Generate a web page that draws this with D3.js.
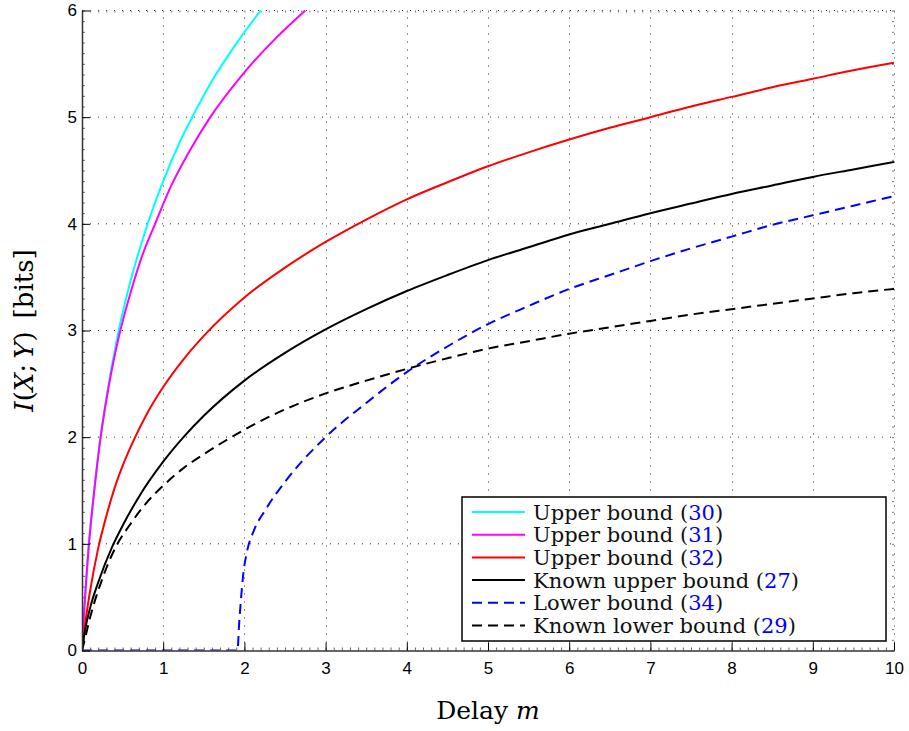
<!DOCTYPE html>
<html>
<head>
<meta charset="utf-8">
<script src="https://cdn.jsdelivr.net/npm/d3@7/dist/d3.min.js"></script>
<style>
  body { margin: 0; background: #fff; }
  svg { display: block; }
</style>
</head>
<body>
<div id="chart"></div>
<script>

// curves, [delay m, I(X;Y) bits]
const upper30 = [[0,0],[0.03,0.4],[0.08,0.97],[0.15,1.5],[0.22,1.96],[0.3,2.37],[0.435,2.94],[0.6,3.47],[0.8,3.98],[1.0,4.4],[1.2,4.76],[1.35,4.99],[1.6,5.34],[1.9,5.69],[2.2,6.0]];
const upper31 = [[0,0],[0.03,0.41],[0.085,0.99],[0.15,1.49],[0.23,2.0],[0.33,2.48],[0.45,2.93],[0.6,3.36],[0.75,3.72],[0.9,4.0],[1.1,4.36],[1.3,4.65],[1.58,5.0],[2.0,5.42],[2.4,5.75],[2.75,6.0]];
const upper32 = [[0,0],[0.05,0.31],[0.1,0.56],[0.2,0.96],[0.3,1.26],[0.4,1.52],[0.5,1.73],[0.63,1.96],[0.8,2.22],[1,2.47],[1.25,2.73],[1.5,2.95],[2,3.31],[2.5,3.59],[3,3.83],[3.5,4.04],[4,4.23],[4.5,4.39],[5,4.54],[5.5,4.67],[6,4.79],[6.5,4.9],[7,5.0],[7.5,5.1],[8,5.19],[8.5,5.28],[9,5.36],[9.5,5.44],[10,5.51]];
const knownUpper27 = [[0,0],[0.04,0.2],[0.1,0.4],[0.2,0.64],[0.37,0.97],[0.5,1.17],[0.7,1.44],[1,1.77],[1.25,2.0],[1.5,2.2],[2,2.53],[2.5,2.79],[3,3.01],[3.5,3.2],[4,3.37],[4.5,3.52],[5,3.66],[5.5,3.78],[6,3.9],[6.5,4.0],[7,4.1],[7.5,4.19],[8,4.28],[8.5,4.36],[9,4.44],[9.5,4.51],[10,4.58]];
const lower34 = [[0,0],[1.8,0],[1.915,0],[1.935,0.25],[1.96,0.5],[1.985,0.71],[2.03,0.92],[2.12,1.13],[2.26,1.32],[2.54,1.62],[3,2.0],[3.5,2.32],[4,2.61],[4.5,2.85],[5,3.06],[5.5,3.23],[6,3.39],[6.5,3.52],[7,3.65],[7.5,3.77],[8,3.88],[8.5,3.99],[9,4.08],[9.5,4.17],[10,4.26]];
const knownLower29 = [[0,0],[0.04,0.12],[0.08,0.25],[0.16,0.47],[0.24,0.65],[0.33,0.83],[0.43,0.99],[0.6,1.19],[0.8,1.39],[1,1.545],[1.25,1.71],[1.5,1.84],[2,2.07],[2.5,2.26],[3,2.41],[3.5,2.53],[4,2.64],[4.5,2.74],[5,2.83],[5.5,2.9],[6,2.97],[6.5,3.03],[7,3.09],[7.5,3.15],[8,3.2],[8.5,3.25],[9,3.3],[9.5,3.35],[10,3.39]];

const xTicks = [0,1,2,3,4,5,6,7,8,9,10];
const yTicks = [0,1,2,3,4,5,6];

const legendNames = ["Upper bound", "Upper bound", "Upper bound", "Known upper bound", "Lower bound", "Known lower bound"];
const legendRefs = ["30", "31", "32", "27", "34", "29"];

const series = [
  { data: upper30, color: "#00ffff", dash: null },
  { data: upper31, color: "#ff00ff", dash: null },
  { data: upper32, color: "#ff0000", dash: null },
  { data: knownUpper27, color: "#000000", dash: null },
  { data: lower34, color: "#0000ff", dash: "10,6" },
  { data: knownLower29, color: "#000000", dash: "10,6" }
];

const width = 909;
const height = 731;
const sansFont = "'Liberation Sans', Arial, Helvetica, sans-serif";
const serifFont = "'DejaVu Serif', 'Liberation Serif', serif";

const x = d3.scaleLinear().domain([0, 10]).range([82, 894]);
const y = d3.scaleLinear().domain([0, 6]).range([650.5, 10.5]);

const svg = d3.select("#chart").append("svg")
	.attr("width", width)
	.attr("height", height)
	.attr("viewBox", `0 0 ${width} ${height}`);

svg.append("defs").append("clipPath")
	.attr("id", "plotClip")
	.append("rect")
		.attr("x", x(0)).attr("y", y(6) - 1)
		.attr("width", x(10) - x(0)).attr("height", y(0) - y(6) + 1);

// dotted grid
const grid = svg.append("g").attr("stroke", "#333").attr("stroke-width", 1).attr("stroke-dasharray", "1,7");
grid.selectAll("line.gx")
	.data(xTicks.filter(d => d > 0))
	.enter().append("line")
		.attr("class", "gx")
		.attr("x1", d => Math.round(x(d)) + 0.5).attr("x2", d => Math.round(x(d)) + 0.5)
		.attr("y1", y(0)).attr("y2", y(6));
grid.selectAll("line.gy")
	.data(yTicks.filter(d => d > 0))
	.enter().append("line")
		.attr("class", "gy")
		.attr("x1", x(0)).attr("x2", x(10))
		.attr("y1", d => y(d)).attr("y2", d => y(d));

// minor ticks all round
const minorX = d3.range(0, 100.5, 1).map(d => d / 10);
const minorY = d3.range(0, 60.5, 1).map(d => d / 10);

svg.append("g")
	.attr("transform", `translate(0,${y(0)})`)
	.call(d3.axisBottom(x).tickValues(minorX).tickSize(-3).tickSizeOuter(0).tickFormat(""))
	.call(g => g.select(".domain").remove())
	.call(g => g.selectAll("line").attr("stroke", "#666"));
svg.append("g")
	.attr("transform", `translate(0,${y(6)})`)
	.call(d3.axisTop(x).tickValues(minorX).tickSize(-2).tickSizeOuter(0).tickFormat(""))
	.call(g => g.select(".domain").remove())
	.call(g => g.selectAll("line").attr("stroke", "#777"));
svg.append("g")
	.attr("transform", `translate(${x(0)},0)`)
	.call(d3.axisLeft(y).tickValues(minorY).tickSize(-3).tickSizeOuter(0).tickFormat(""))
	.call(g => g.select(".domain").remove())
	.call(g => g.selectAll("line").attr("stroke", "#666"));
svg.append("g")
	.attr("transform", `translate(${x(10)},0)`)
	.call(d3.axisRight(y).tickValues(minorY).tickSize(-2).tickSizeOuter(0).tickFormat(""))
	.call(g => g.select(".domain").remove())
	.call(g => g.selectAll("line").attr("stroke", "#777"));

// curves
const line = d3.line()
	.x(d => x(d[0]))
	.y(d => y(d[1]))
	.curve(d3.curveMonotoneX);

svg.append("g")
	.attr("clip-path", "url(#plotClip)")
	.selectAll("path")
	.data(series)
	.enter().append("path")
		.attr("d", d => line(d.data))
		.attr("fill", "none")
		.attr("stroke", d => d.color)
		.attr("stroke-width", 2)
		.attr("stroke-dasharray", d => d.dash);

// main axes
const xAxis = svg.append("g")
	.attr("transform", `translate(0,${y(0)})`)
	.call(d3.axisBottom(x).tickValues(xTicks).tickSize(-8).tickSizeOuter(0).tickPadding(11).tickFormat(d3.format("d")));
const yAxis = svg.append("g")
	.attr("transform", `translate(${x(0)},0)`)
	.call(d3.axisLeft(y).tickValues(yTicks).tickSize(-8).tickSizeOuter(0).tickPadding(5).tickFormat(d3.format("d")));

[xAxis, yAxis].forEach(g => {
	g.select(".domain").attr("stroke", "#333").attr("stroke-width", 1.5);
	g.selectAll(".tick line").attr("stroke", "#000").attr("stroke-width", 1);
	g.selectAll("text")
		.attr("fill", "#000")
		.style("font-family", sansFont)
		.style("font-size", "17px");
});

// axis titles
const xTitle = svg.append("text")
	.attr("x", (x(0) + x(10)) / 2)
	.attr("y", 719)
	.attr("text-anchor", "middle")
	.style("font-family", serifFont)
	.style("font-size", "25px");
xTitle.append("tspan").text("Delay ");
xTitle.append("tspan").attr("font-style", "italic").text("m");

const yTitle = svg.append("text")
	.attr("transform", `translate(33,${(y(0) + y(6)) / 2}) rotate(-90)`)
	.attr("text-anchor", "middle")
	.style("font-family", serifFont)
	.style("font-size", "26px");
[["I", true], ["(", false], ["X", true], [";\u2009", false], ["Y", true], [")\u2002[bits]", false]]
	.forEach(p => yTitle.append("tspan").attr("font-style", p[1] ? "italic" : "normal").text(p[0]));

// legend
const legend = svg.append("g").attr("transform", "translate(462,497)");
legend.append("rect")
	.attr("width", 424).attr("height", 144)
	.attr("fill", "#fff")
	.attr("stroke", "#000")
	.attr("stroke-width", 1.5);

const rows = legend.selectAll("g.row")
	.data(series)
	.enter().append("g")
		.attr("class", "row")
		.attr("transform", (d, i) => `translate(0,${15 + i * 22.7})`);

rows.append("line")
	.attr("x1", 10).attr("x2", 63)
	.attr("y1", 0).attr("y2", 0)
	.attr("stroke", d => d.color)
	.attr("stroke-width", 2)
	.attr("stroke-dasharray", d => d.dash);

const labels = rows.append("text")
	.attr("x", 71)
	.attr("dy", "0.36em")
	.style("font-family", serifFont)
	.style("font-size", "21px")
	.attr("fill", "#111");
labels.append("tspan").text((d, i) => legendNames[i] + " (");
labels.append("tspan").attr("fill", "#0000ff").text((d, i) => legendRefs[i]);
labels.append("tspan").text(")");

</script>
</body>
</html>
